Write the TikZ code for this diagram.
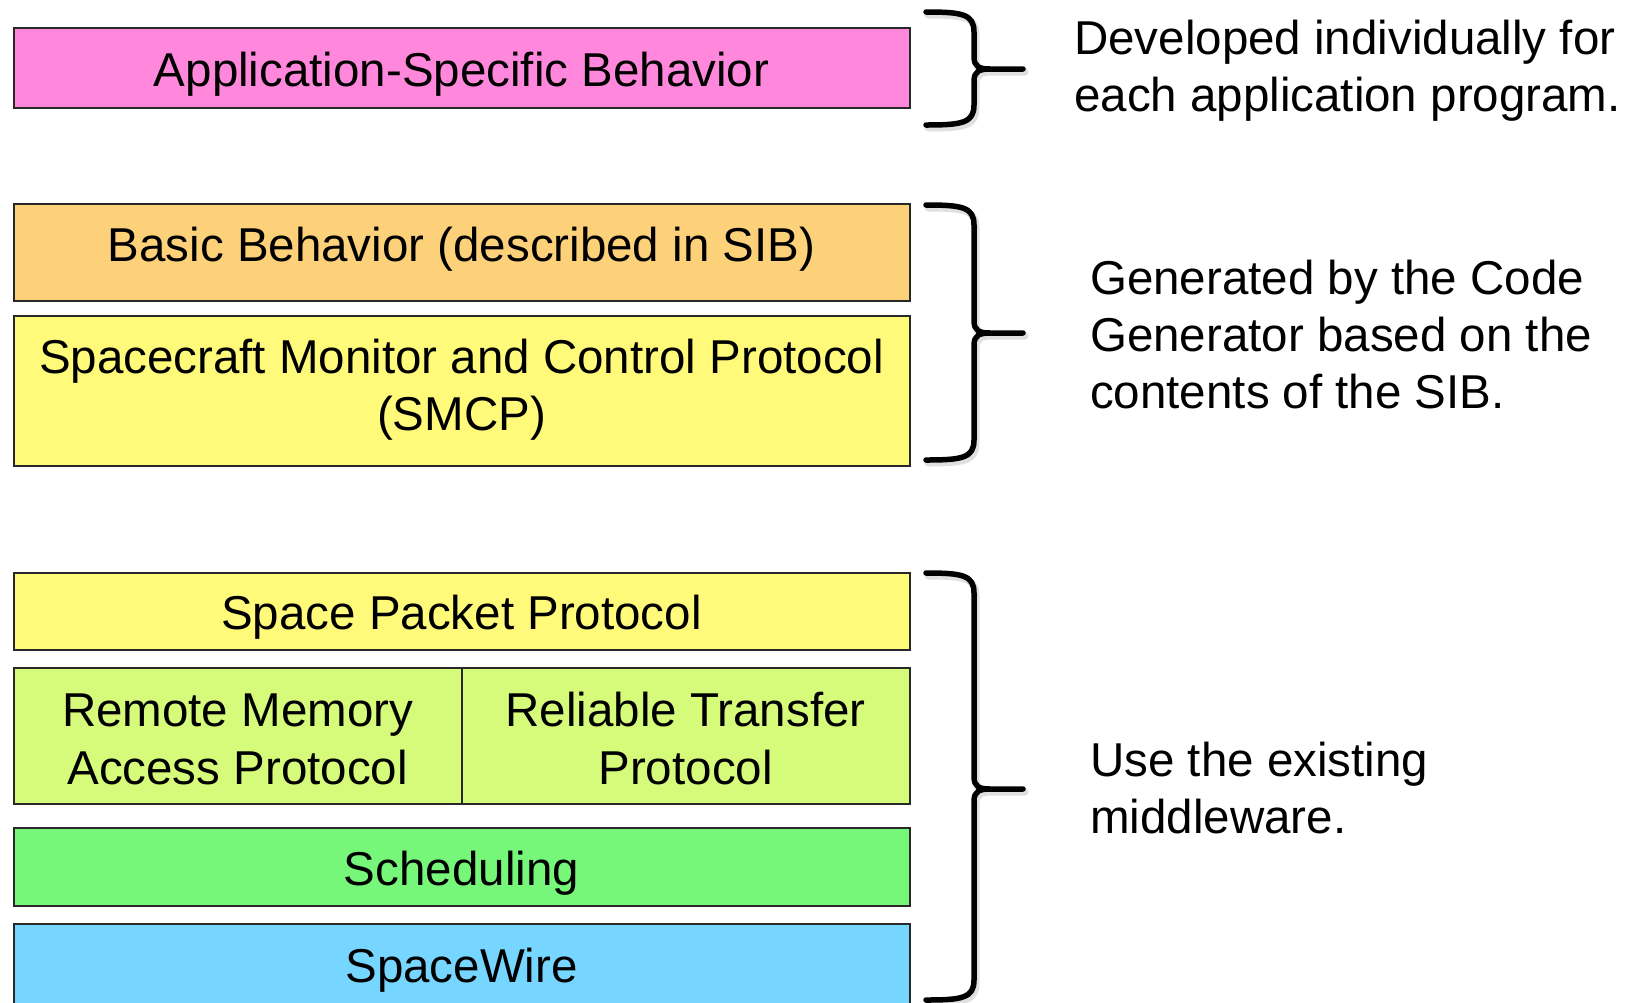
\documentclass[tikz,border=0pt]{standalone}
\usepackage{fontspec}
\setmainfont{Liberation Sans}
\definecolor{layerpink}{RGB}{255,136,220}
\definecolor{layerorange}{RGB}{253,208,122}
\definecolor{layeryellow}{RGB}{255,250,122}
\definecolor{layerlime}{RGB}{214,250,122}
\definecolor{layergreen}{RGB}{118,247,122}
\definecolor{layerblue}{RGB}{118,214,255}
\definecolor{edgegray}{RGB}{40,40,40}

% brace: top end y, tip y, bottom end y (y grows downwards)
\newcommand{\layerbrace}[4][]{%
  \draw[#1] (926,#2) .. controls (962,#2) and (974,#2+2) .. (974,#2+20)
    -- (974,#3-12) .. controls (974,#3-2) and (980,#3) .. (990,#3) -- (1023,#3)
    (990,#3) .. controls (980,#3) and (974,#3+2) .. (974,#3+12)
    -- (974,#4-20) .. controls (974,#4-2) and (962,#4) .. (926,#4);}

\begin{document}
\begin{tikzpicture}[x=1pt,y=-1pt,
  layer/.style={draw=edgegray, line width=2pt, rectangle},
  label/.style={anchor=base, inner sep=0pt, font=\fontsize{47.5}{57}\selectfont},
  note/.style={anchor=base west, inner sep=0pt},
  bracestroke/.style={line width=5.5pt, line cap=round, line join=round},
  braceshadow/.style={line width=7pt, draw=black!35, opacity=0.35, line cap=round}]
\useasboundingbox (0,0) rectangle (1632,1002);

% ---- layer boxes ----
\draw[layer, fill=layerpink]   (13.5,28)  coordinate (appNW)  rectangle (909.5,108);
\draw[layer, fill=layerorange] (13.5,204) coordinate (basNW)  rectangle (909.5,301);
\draw[layer, fill=layeryellow] (13.5,316) coordinate (smcpNW) rectangle (909.5,466);
\draw[layer, fill=layeryellow] (13.5,572.5) coordinate (sppNW) rectangle (909.5,649.5);
\draw[layer, fill=layerlime]   (13.5,668) coordinate (rmapNW) rectangle (461.7,804);
\draw[layer, fill=layerlime]   (461.7,668) coordinate (rtpNW) rectangle (909.5,804);
\draw[layer, fill=layergreen]  (13.5,828) coordinate (schNW)  rectangle (909.5,906);
\draw[layer, fill=layerblue]   (13.5,924) coordinate (swNW)   rectangle (909.5,1012);

% ---- layer labels ----
\node[label] (app)  at (461.5,86)  {Application-Specific Behavior};
\node[label] (bas)  at (461.5,261) {Basic Behavior (described in SIB)};
\node[label] (smcp1) at (461.5,373) {Spacecraft Monitor and Control Protocol};
\node[label] (smcp2) at (461.5,430) {(SMCP)};
\node[label] (spp)  at (461.5,629) {Space Packet Protocol};
\node[label] (rmap1) at (237.6,726) {Remote Memory};
\node[label] (rmap2) at (237.6,784) {Access Protocol};
\node[label] (rtp1) at (685.6,726) {Reliable Transfer};
\node[label] (rtp2) at (685.6,784) {Protocol};
\node[label] (sch)  at (461.5,885) {Scheduling};
\node[label] (sw)   at (461.5,982) {SpaceWire};

% ---- braces ----
\begin{scope}[shift={(2,3)}]
  \layerbrace[braceshadow]{12}{69}{125}
  \layerbrace[braceshadow]{205}{333}{460}
  \layerbrace[braceshadow]{573}{789}{1000}
\end{scope}
\layerbrace[bracestroke]{12}{69}{125}
\layerbrace[bracestroke]{205}{333}{460}
\layerbrace[bracestroke]{573}{789}{1000}

% ---- notes, one node per line ----
\node[label, note] (dev1) at (1074,54)  {Developed individually for};
\node[label, note] (dev2) at (1074,111) {each application program.};
\node[label, note] (gen1) at (1090,294) {Generated by the Code};
\node[label, note] (gen2) at (1090,351) {Generator based on the};
\node[label, note] (gen3) at (1090,408) {contents of the SIB.};
\node[label, note] (use1) at (1090,776) {Use the existing};
\node[label, note] (use2) at (1090,833) {middleware.};
\end{tikzpicture}
\end{document}
